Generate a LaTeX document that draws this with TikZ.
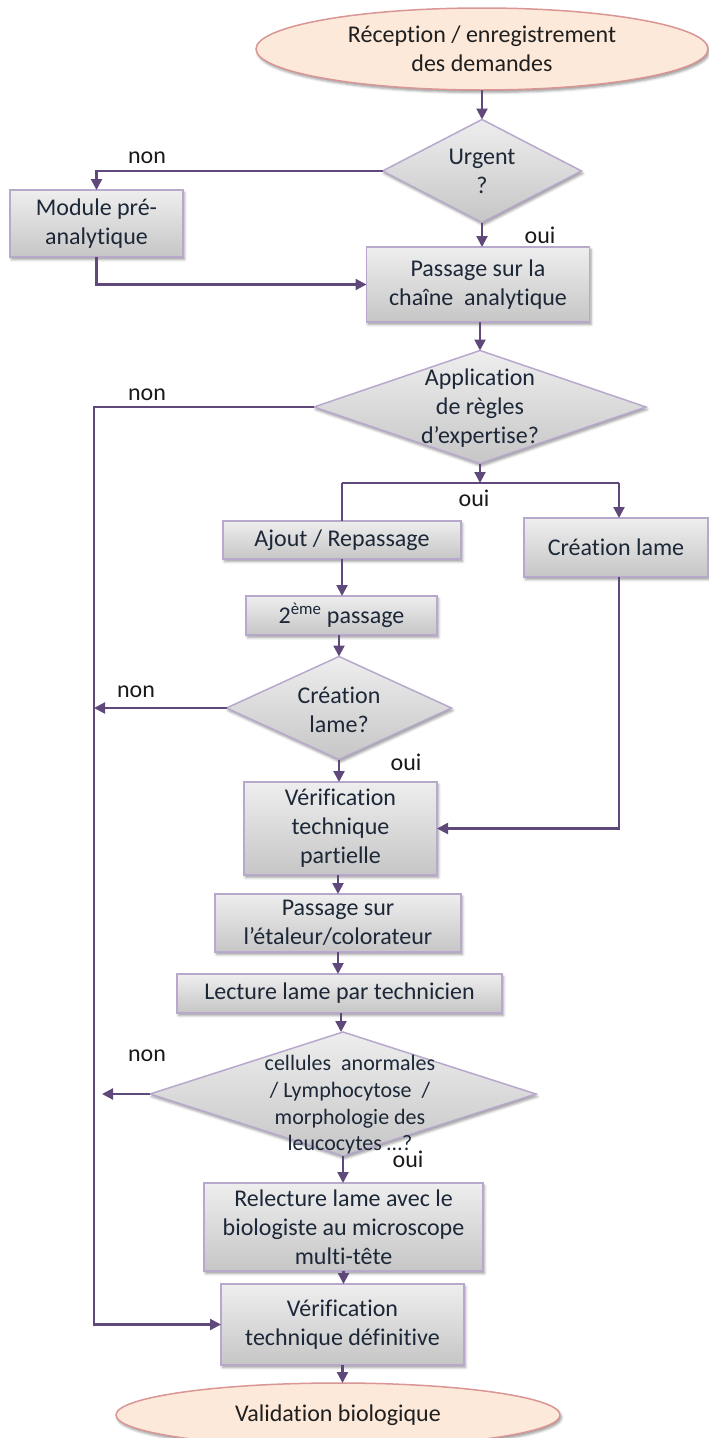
\documentclass[tikz,border=0pt]{standalone}
\usepackage{fontspec}
\setmainfont{Carlito}[Ligatures=CommonOff]
\usetikzlibrary{shapes.geometric,arrows.meta,shadows.blur}

\definecolor{flow}{HTML}{5F497A}
\definecolor{edge}{HTML}{B7A8CC}
\definecolor{boxtop}{HTML}{EEEEEE}
\definecolor{boxbot}{HTML}{C6C6C6}
\definecolor{ink}{HTML}{1C2738}
\definecolor{peach}{HTML}{FDE9D9}
\definecolor{peachedge}{HTML}{D99694}

\begin{document}
\begin{tikzpicture}[x=1pt,y=-1pt,
  every node/.style={inner sep=0pt,outer sep=0pt},
  softshadow/.style={blur shadow={shadow xshift=1.5pt,shadow yshift=-2.5pt,
      shadow blur radius=2.5pt,shadow opacity=40}},
  stepbox/.style={rectangle,draw=edge,line width=1.5pt,top color=boxtop,
      bottom color=boxbot,text=ink,font=\fontsize{24}{29}\selectfont,
      align=center,softshadow},
  decision/.style={diamond,draw=edge,line width=1.5pt,top color=boxtop,
      bottom color=boxbot,softshadow},
  dtext/.style={text=ink,font=\fontsize{24}{29}\selectfont,align=center},
  terminal/.style={ellipse,draw=peachedge,line width=1.5pt,fill=peach,
      text=black!88,font=\fontsize{24}{29}\selectfont,align=center,softshadow},
  conn/.style={draw=flow,line width=2.2pt,-{Triangle[length=11pt,width=11pt]}},
  plain/.style={draw=flow,line width=2.2pt},
  answer/.style={text=black!90,font=\fontsize{24}{29}\selectfont}]

\clip (0,0) rectangle (709,1438);

% terminals
\node[terminal,minimum width=452pt,minimum height=82pt] (start) at (482,49)
  {Réception / enregistrement\\des demandes};
\node[terminal,minimum width=444pt,minimum height=64pt] (valid) at (338,1415)
  {Validation biologique};

% decisions
\node[decision,minimum width=199pt,minimum height=103pt] (urgent) at (482,171) {};
\node[dtext] (urgent-t) at (482,171.5) {Urgent\\?};
\node[decision,minimum width=332pt,minimum height=113pt] (expert) at (480,407) {};
\node[dtext] (expert-t) at (480,408.5) {Application\\de règles\\d’expertise?};
\node[decision,minimum width=225pt,minimum height=103pt] (slide) at (339,708) {};
\node[dtext] (slide-t) at (339,710) {Création\\lame?};
\node[decision,minimum width=386pt,minimum height=124pt] (cells) at (343,1094) {};
\node[dtext,font=\fontsize{22}{26.7}\selectfont] (cells-t) at (350,1105)
  {cellules\ \ anormales\\/ Lymphocytose\ \ /\\morphologie des\\leucocytes …?};

% process steps
\node[stepbox,minimum width=173pt,minimum height=67pt] (module) at (96.5,223.5)
  {Module pré-\\analytique};
\node[stepbox,minimum width=223pt,minimum height=75pt] (chain) at (478,284.5)
  {Passage sur la\\chaîne\ \ analytique};
\node[stepbox,minimum width=238pt,minimum height=38pt] (ajout) at (342,540)
  {Ajout / Repassage};
\node[stepbox,minimum width=184pt,minimum height=59pt] (creat) at (616,547.5)
  {Création lame};
\node[stepbox,minimum width=191pt,minimum height=39pt] (pass2) at (341.5,615.5)
  {2\textsuperscript{ème} passage};
\node[stepbox,minimum width=193pt,minimum height=93pt] (vpart) at (340.5,828.5)
  {Vérification\\technique\\partielle};
\node[stepbox,minimum width=246pt,minimum height=58pt] (etal) at (338,923)
  {Passage sur\\l’étaleur/colorateur};
\node[stepbox,minimum width=325pt,minimum height=39pt] (lecture) at (339.5,993.5)
  {Lecture lame par technicien};
\node[stepbox,minimum width=279pt,minimum height=88pt] (relect) at (343.5,1227)
  {Relecture lame avec le\\biologiste au microscope\\multi-tête};
\node[stepbox,minimum width=243pt,minimum height=81pt] (vdef) at (342.5,1324.5)
  {Vérification\\technique définitive};

% routing points
\coordinate (rail) at (94,407);
\coordinate (fork) at (480,483);
\coordinate (forkR) at (619,483);
\coordinate (cellsend) at (102,1094);

% connectors
\draw[conn] (start) -- (urgent);
\draw[conn] (urgent.west) -| (module.north);
\draw[conn] (urgent.south) -- (urgent.south |- chain.north);
\draw[conn] (module.south) |- (chain.west);
\draw[conn] (chain.south -| expert) -- (expert.north);
\draw[conn] (expert.west) -- (rail) |- (vdef.west);
\draw[conn] (expert.south) -- (fork);
\draw[plain] (fork -| ajout) -- (forkR);
\draw[plain] (fork -| ajout) -- (ajout.north);
\draw[conn] (forkR) -- (forkR |- creat.north);
\draw[conn] (ajout.south) -- (ajout.south |- pass2.north);
\draw[conn] (pass2.south -| slide) -- (slide.north);
\draw[conn] (slide.west) -- (slide.west -| rail);
\draw[conn] (slide.south) -- (slide.south |- vpart.north);
\draw[conn] (forkR |- creat.south) |- (vpart.east);
\draw[conn] (vpart.south -| etal) -- (etal.north);
\draw[conn] (etal.south) -- (etal.south |- lecture.north);
\draw[conn] (lecture.south -| 341,0) -- (cells.north -| 341,0);
\draw[conn] (cells.west) -- (cellsend);
\draw[conn] (cells.south) -- (cells.south |- relect.north);
\draw[conn] (relect.south) -- (relect.south |- vdef.north);
\draw[conn] (vdef.south) -- (vdef.south |- valid.north);

% branch answers
\node[answer] (non1) at (147,158) {non};
\node[answer] (oui1) at (540,235) {oui};
\node[answer] (non2) at (147,395) {non};
\node[answer] (oui2) at (474,498) {oui};
\node[answer] (non3) at (136,692) {non};
\node[answer] (oui3) at (406,762) {oui};
\node[answer] (non4) at (147,1056) {non};
\node[answer] (oui4) at (408,1159) {oui};
\end{tikzpicture}
\end{document}
